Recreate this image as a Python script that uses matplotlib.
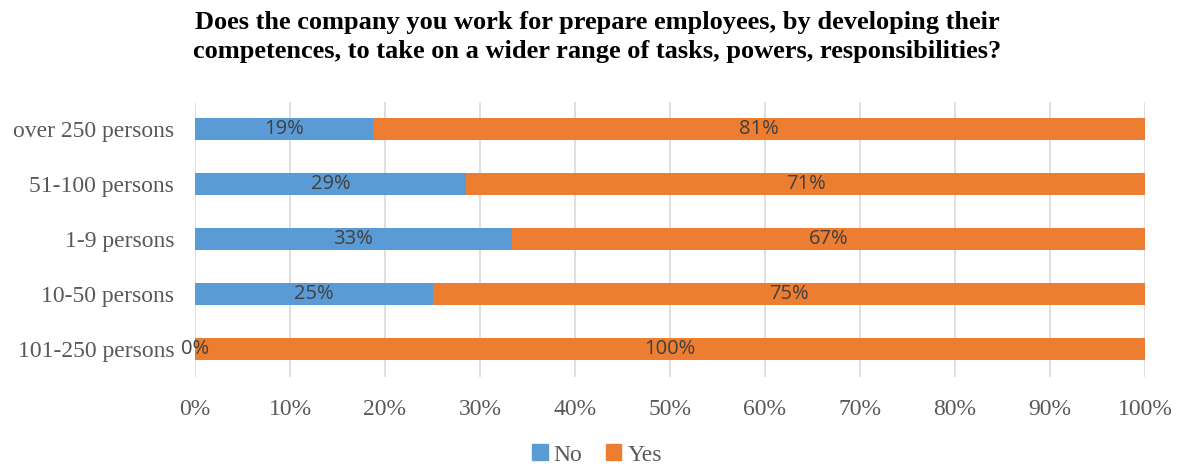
import matplotlib.pyplot as plt
from matplotlib.ticker import PercentFormatter
from matplotlib.patches import Patch

categories = ["over 250 persons", "51-100 persons", "1-9 persons", "10-50 persons", "101-250 persons"]
no_share = [18.75, 28.57, 33.33, 25.0, 0.0]
yes_share = [81.25, 71.43, 66.67, 75.0, 100.0]
no_labels = ["19%", "29%", "33%", "25%", "0%"]
yes_labels = ["81%", "71%", "67%", "75%", "100%"]

blue = "#5b9bd5"
orange = "#ed7d31"
grey = "#595959"
serif = ["Liberation Serif", "DejaVu Serif"]
label_font = ["Open Sans", "DejaVu Sans"]

fig = plt.figure(figsize=(11.8, 4.66), dpi=100)
ax = fig.add_axes([195 / 1180, 1 - 376.5 / 466, 950 / 1180, 275 / 466])

y = list(range(len(categories)))
ax.barh(y, no_share, height=0.4, color=blue, zorder=3)
ax.barh(y, yes_share, left=no_share, height=0.4, color=orange, zorder=3)

for i in y:
    ax.text(no_share[i] / 2, i, no_labels[i], ha="center", va="center",
            fontsize=14.5, color="#404040", family=label_font, zorder=4)
    ax.text(no_share[i] + yes_share[i] / 2, i, yes_labels[i], ha="center", va="center",
            fontsize=14.5, color="#404040", family=label_font, zorder=4)

ax.set_xlim(0, 100)
ax.set_ylim(len(categories) - 0.5, -0.5)
ax.set_xticks(range(0, 101, 10))
ax.xaxis.set_major_formatter(PercentFormatter(decimals=0))
ax.set_yticks(y)
ax.set_yticklabels(categories)
ax.tick_params(axis="both", length=0, labelsize=17, labelcolor=grey)
ax.tick_params(axis="x", pad=16)
ax.tick_params(axis="y", pad=15)
for lab in ax.get_xticklabels() + ax.get_yticklabels():
    lab.set_family(serif)

ax.grid(axis="x", color="#d9d9d9", linewidth=1.2, zorder=0)
for s in ax.spines.values():
    s.set_visible(False)

fig.suptitle("Does the company you work for prepare employees, by developing their\n"
             "competences, to take on a wider range of tasks, powers, responsibilities?",
             x=597 / 1180, y=1 - 11 / 466, fontsize=19, fontweight="bold", family=serif,
             linespacing=1.33)

handles = [Patch(color=blue, label="No"), Patch(color=orange, label="Yes")]
fig.legend(handles=handles, loc="center", bbox_to_anchor=(597 / 1180, 1 - 455 / 466),
           ncol=2, frameon=False, prop={"family": serif, "size": 17},
           handlelength=0.65, handleheight=0.65, handletextpad=0.25, columnspacing=1.0,
           labelcolor=grey)

fig.savefig("out.png", dpi=100)
